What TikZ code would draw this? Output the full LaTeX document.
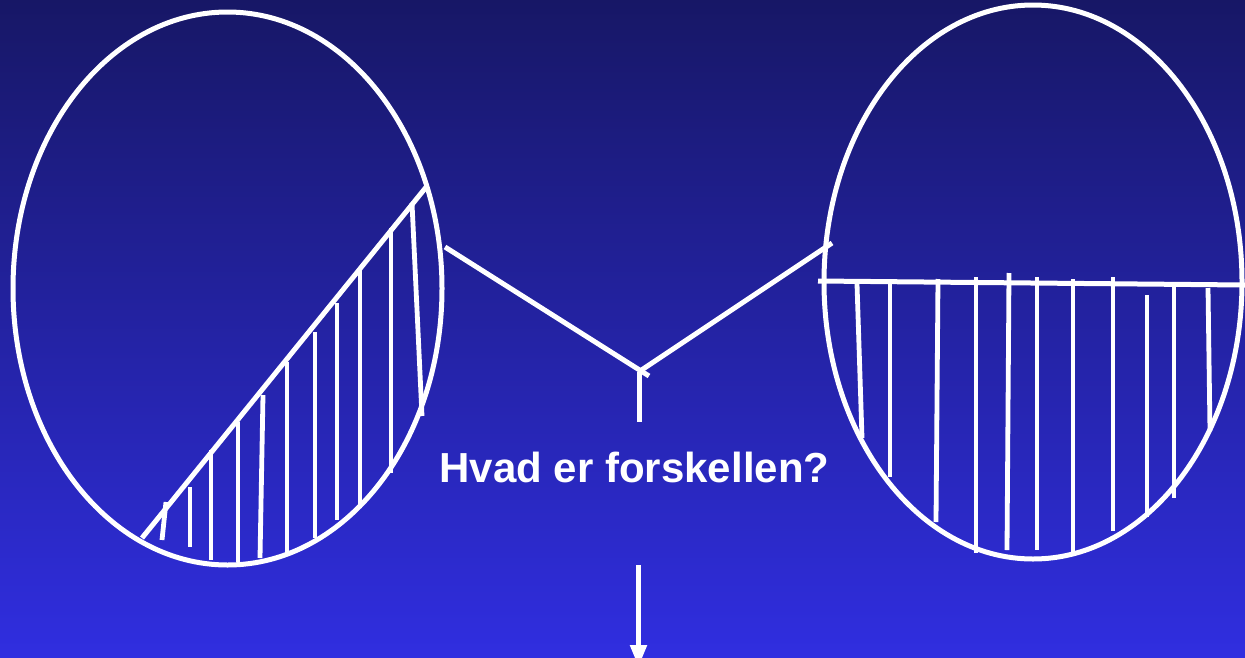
\documentclass[tikz,border=0pt]{standalone}
\usepackage{fontspec}
\setmainfont{Liberation Sans}
\usetikzlibrary{arrows.meta}
\definecolor{bgtop}{RGB}{23,23,102}
\definecolor{bgbot}{RGB}{48,46,224}
\tikzset{
  wline/.style={draw=white, line width=5pt},
  hatch/.style={draw=white, line width=4.8pt},
  oval/.style={draw=white, line width=5pt},
}
\begin{document}
\begin{tikzpicture}[x=1pt,y=-1pt]
\useasboundingbox (0,0) rectangle (1245,657);
\clip (0,0) rectangle (1245,657);
\shade[top color=bgtop, bottom color=bgbot] (0,0) rectangle (1245,657);

% left ellipse
\draw[oval] (227.5,288.5) ellipse [x radius=214.5, y radius=276.5];
% chord
\draw[wline] (142,538) -- (427,186);
% hatch lines left
\foreach \xa/\ya/\xb/\yb in {166/502/162/540, 190/487/190/547, 211/450/211/560,
  238/422/238/562, 263/395/260/558, 287/362/287/552, 315/332/315/538,
  337/303/337/520, 360/270/360/507, 391/228/391/473, 412/203/422/416}
  \draw[hatch] (\xa,\ya) -- (\xb,\yb);

% right ellipse
\draw[oval] (1033,282) ellipse [x radius=209, y radius=277];
\draw[wline] (818,281) -- (1245,285);
\foreach \xa/\ya/\xb/\yb in {857/284/862/438, 890/282/890/477, 938/279/936/522,
  976/277/976/553, 1009/273/1007/550, 1037/277/1037/550, 1073/279/1073/553,
  1113/277/1113/531, 1147/295/1147/517, 1174/285/1174/498, 1208/288/1210/431}
  \draw[hatch] (\xa,\ya) -- (\xb,\yb);

% V connector
\coordinate (vl) at (445,247);
\coordinate (vle) at (649,376);
\coordinate (vr) at (832,243);
\coordinate (vre) at (640,371);
\coordinate (st) at (639,372);
\coordinate (sb) at (639,422);
\draw[wline] (vl) -- (vle);
\draw[wline] (vr) -- (vre);
\draw[wline] (st) -- (sb);

\node[text=white, anchor=base, inner sep=0pt, font=\bfseries\fontsize{42}{50}\selectfont] (q) at (634.5,482) {Hvad er forskellen?};

\coordinate (a1) at (638.5,565);
\coordinate (a2) at (638.5,667);
\draw[draw=white, line width=5pt, -{Triangle[width=16pt,length=22pt]}, white] (a1) -- (a2);
\end{tikzpicture}
\end{document}
